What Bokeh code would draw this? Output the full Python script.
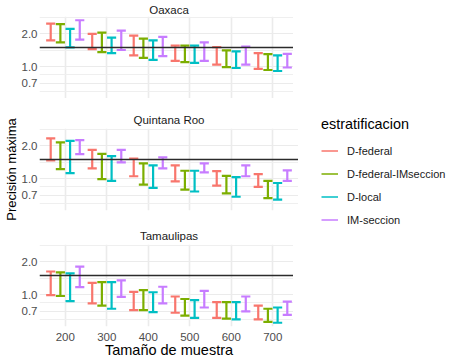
from bokeh.plotting import figure
from bokeh.models import (ColumnDataSource, Range1d, FixedTicker, PrintfTickFormatter,
                          Span, Legend, LegendItem)
from bokeh.transform import dodge
from bokeh.layouts import column, row
from bokeh.embed import file_html
from bokeh.resources import INLINE

# ---------------- data ----------------
tamanos = [200, 300, 400, 500, 600, 700]
estratos = ["D-federal", "D-federal-IMseccion", "D-local", "IM-seccion"]
colores = ["#F8766D", "#7CAE00", "#00BFC4", "#C77CFF"]
estados = ["Oaxaca", "Quintana Roo", "Tamaulipas"]

y_ticks = [0.7, 1.0, 2.0]
y_minor = [0.586, 0.837, 1.414, 2.83]
umbral = 1.5

# Oaxaca
oax_dfed_lo = [1.74, 1.45, 1.27, 1.13, 1.04, 0.95]
oax_dfed_hi = [2.48, 2.00, 1.93, 1.56, 1.51, 1.33]
oax_dfim_lo = [1.67, 1.36, 1.20, 1.10, 0.99, 0.93]
oax_dfim_hi = [2.46, 2.05, 1.81, 1.56, 1.41, 1.30]
oax_dloc_lo = [1.50, 1.33, 1.15, 1.08, 0.97, 0.91]
oax_dloc_hi = [2.22, 1.85, 1.74, 1.56, 1.38, 1.27]
oax_imse_lo = [1.77, 1.42, 1.25, 1.13, 1.04, 0.98]
oax_imse_hi = [2.67, 2.14, 1.88, 1.67, 1.53, 1.31]

# Quintana Roo
qroo_dfed_lo = [1.47, 1.24, 1.05, 0.94, 0.86, 0.84]
qroo_dfed_hi = [2.34, 1.84, 1.53, 1.32, 1.17, 1.10]
qroo_dfim_lo = [1.22, 0.99, 0.88, 0.79, 0.73, 0.66]
qroo_dfim_hi = [2.15, 1.69, 1.38, 1.18, 1.06, 0.95]
qroo_dloc_lo = [1.12, 0.95, 0.82, 0.76, 0.68, 0.64]
qroo_dloc_hi = [2.22, 1.61, 1.32, 1.18, 1.03, 0.91]
qroo_imse_lo = [1.68, 1.41, 1.24, 1.14, 1.05, 0.95]
qroo_imse_hi = [2.26, 1.84, 1.57, 1.38, 1.32, 1.19]

# Tamaulipas
tam_dfed_lo = [0.99, 0.83, 0.72, 0.68, 0.61, 0.59]
tam_dfed_hi = [1.63, 1.28, 1.06, 0.96, 0.85, 0.79]
tam_dfim_lo = [0.97, 0.79, 0.72, 0.64, 0.60, 0.56]
tam_dfim_hi = [1.60, 1.30, 1.10, 0.91, 0.85, 0.74]
tam_dloc_lo = [0.87, 0.74, 0.69, 0.61, 0.59, 0.55]
tam_dloc_hi = [1.57, 1.30, 1.05, 0.89, 0.85, 0.76]
tam_imse_lo = [1.17, 0.95, 0.83, 0.76, 0.70, 0.65]
tam_imse_hi = [1.81, 1.35, 1.18, 1.08, 0.96, 0.86]

datos = {
    "Oaxaca": [(oax_dfed_lo, oax_dfed_hi), (oax_dfim_lo, oax_dfim_hi),
               (oax_dloc_lo, oax_dloc_hi), (oax_imse_lo, oax_imse_hi)],
    "Quintana Roo": [(qroo_dfed_lo, qroo_dfed_hi), (qroo_dfim_lo, qroo_dfim_hi),
                     (qroo_dloc_lo, qroo_dloc_hi), (qroo_imse_lo, qroo_imse_hi)],
    "Tamaulipas": [(tam_dfed_lo, tam_dfed_hi), (tam_dfim_lo, tam_dfim_hi),
                   (tam_dloc_lo, tam_dloc_hi), (tam_imse_lo, tam_imse_hi)],
}

# ---------------- style ----------------
FONT = "Liberation Sans"
offsets = [-35.0, -11.7, 11.7, 35.0]
cap = 11.0
FRAME_W, FRAME_H = 259, 82
BORDER_L = 34
TOTAL_H = 344


def make_panel(name, idx):
    first, middle, last = idx == 0, idx == 1, idx == 2
    p = figure(frame_width=FRAME_W, frame_height=FRAME_H,
               x_range=Range1d(138, 762), y_range=Range1d(0.508, 2.89),
               y_axis_type="log", output_backend="svg", toolbar_location=None,
               title=name, min_border_left=BORDER_L, min_border_right=0,
               min_border_top=0 if first else (30 if middle else 15),
               min_border_bottom=15 if middle else 0,
               background_fill_color="white", border_fill_color="white")
    p.outline_line_color = None
    p.title.align = "center"
    p.title.text_font = FONT
    p.title.text_font_size = "11.5px"
    p.title.text_font_style = "normal"
    p.title.text_color = "#1A1A1A"
    p.title.standoff = 2 if first else 5

    p.xaxis.ticker = FixedTicker(ticks=tamanos)
    p.yaxis.ticker = FixedTicker(ticks=y_ticks, minor_ticks=y_minor)
    p.yaxis.formatter = PrintfTickFormatter(format="%.1f")
    for ax in p.axis:
        ax.axis_line_color = None
        ax.major_tick_line_color = None
        ax.minor_tick_line_color = None
        ax.major_tick_out = 0
        ax.major_tick_in = 0
        ax.minor_tick_out = 0
        ax.minor_tick_in = 0
        ax.major_label_text_font = FONT
        ax.major_label_text_font_size = "11.5px"
        ax.major_label_text_color = "#4D4D4D"
        ax.major_label_standoff = 2
        ax.axis_label_text_font = FONT
        ax.axis_label_text_font_size = "14.5px"
        ax.axis_label_text_font_style = "normal"
        ax.axis_label_text_color = "#000000"
        ax.axis_label_standoff = 0
    if not last:
        p.xaxis.visible = False
    else:
        p.xaxis.axis_label = "Tamaño de muestra"
        p.xaxis.major_label_standoff = 6
        p.xaxis.axis_label_standoff = -2
    if middle:
        p.yaxis.axis_label = "Precisión máxima"
        p.yaxis.axis_label_text_font_size = "13px"

    p.xgrid.grid_line_color = "#EBEBEB"
    p.xgrid.grid_line_width = 1.6
    p.ygrid.grid_line_color = "#EBEBEB"
    p.ygrid.grid_line_width = 1.1
    p.ygrid.minor_grid_line_color = "#EFEFEF"
    p.ygrid.minor_grid_line_width = 1.0

    for (lo, hi), off, col in zip(datos[name], offsets, colores):
        src = ColumnDataSource(dict(n=tamanos, lo=lo, hi=hi))
        p.segment(x0=dodge("n", off), y0="lo", x1=dodge("n", off), y1="hi",
                  source=src, line_color=col, line_width=2.2)
        p.segment(x0=dodge("n", off - cap), y0="hi", x1=dodge("n", off + cap), y1="hi",
                  source=src, line_color=col, line_width=2.2)
        p.segment(x0=dodge("n", off - cap), y0="lo", x1=dodge("n", off + cap), y1="lo",
                  source=src, line_color=col, line_width=2.2)

    p.add_layout(Span(location=umbral, dimension="width",
                      line_color="#2B2B2B", line_width=1.4))
    return p


panels = [make_panel(n, i) for i, n in enumerate(estados)]

# legend figure
lf = figure(width=148, height=TOTAL_H, x_range=Range1d(0, 1), y_range=Range1d(0, 1),
            x_axis_location=None, y_axis_location=None, toolbar_location=None,
            output_backend="svg", min_border_left=23, min_border_top=116,
            min_border_right=0, min_border_bottom=0)
lf.outline_line_color = None
lf.grid.visible = False
items = []
for est, col in zip(estratos, colores):
    r = lf.line(x=[float("nan")], y=[float("nan")], line_color=col, line_width=1.5)
    items.append(LegendItem(label=est, renderers=[r]))
leg = Legend(items=items, location="top_left", title="estratificacion",
             padding=0, margin=0, spacing=0, glyph_width=17, glyph_height=23,
             label_height=23, label_standoff=9, title_standoff=7,
             border_line_color=None, background_fill_alpha=0)
leg.label_text_font = FONT
leg.label_text_font_size = "11px"
leg.label_text_color = "#1A1A1A"
leg.title_text_font = FONT
leg.title_text_font_size = "14.4px"
leg.title_text_font_style = "normal"
leg.title_text_color = "#000000"
lf.add_layout(leg)

layout = row(column(*panels), lf)
open("out.html", "w").write(file_html(layout, INLINE))
